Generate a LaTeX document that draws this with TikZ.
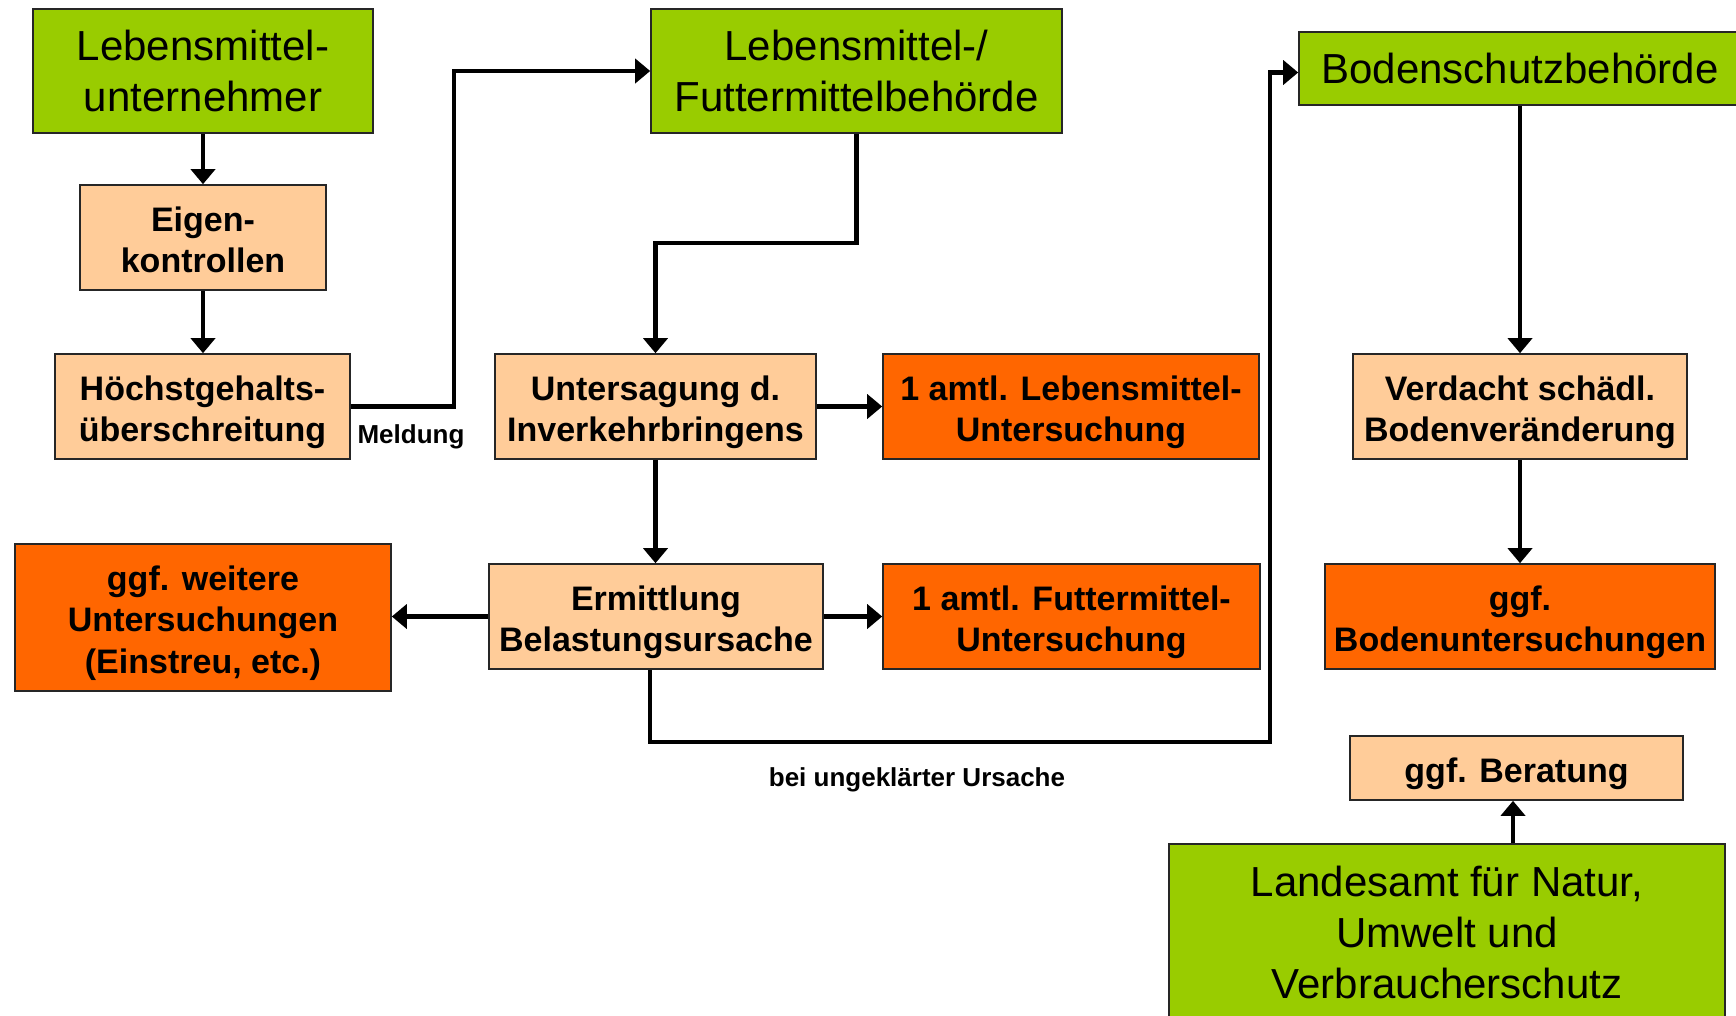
\documentclass[tikz,border=0pt]{standalone}
\usepackage{fontspec}
\setmainfont{Liberation Sans}
\usetikzlibrary{arrows.meta}
\definecolor{lgreen}{HTML}{99CC00}
\definecolor{peach}{HTML}{FFCC99}
\definecolor{dorange}{HTML}{FF6600}
\newcommand\topst{\rule{0pt}{36.5pt}}
\newcommand\botst{\rule[-8pt]{0pt}{8pt}}
\tikzset{
  boxbase/.style={draw=black!85, line width=1.6pt, inner sep=0pt, align=center, anchor=center},
  greenbox/.style={boxbase, fill=lgreen, font=\fontsize{42}{51}\selectfont},
  peachbox/.style={boxbase, fill=peach, font=\fontsize{34}{41.5}\selectfont\bfseries},
  orangebox/.style={boxbase, fill=dorange, font=\fontsize{34}{41.5}\selectfont\bfseries},
  conn/.style={line width=4.5pt, -{Triangle[length=15pt,width=24pt]}},
  lbl/.style={font=\fontsize{26}{30}\selectfont\bfseries, inner sep=0pt}
}
\begin{document}
\begin{tikzpicture}[x=1pt,y=-1pt]
\useasboundingbox[fill=white] (0,0) rectangle (1736,1015);
% boxes
\node[greenbox, minimum width=340pt, minimum height=124pt] (lmu) at (203,71) {Lebensmittel-\\unternehmer};
\node[peachbox, minimum width=246pt, minimum height=105pt] (eig) at (203,237.5) {\topst Eigen-\\kontrollen\botst};
\node[peachbox, minimum width=295pt, minimum height=105pt] (hoe) at (202.5,406.5) {\topst Höchstgehalts-\\überschreitung\botst};
\node[greenbox, minimum width=411pt, minimum height=124pt] (lfb) at (856.5,71) {Lebensmittel-/\\Futtermittelbehörde};
\node[peachbox, minimum width=321pt, minimum height=105pt] (unt) at (655.5,406.5) {\topst Untersagung d.\\Inverkehrbringens\botst};
\node[orangebox, minimum width=376pt, minimum height=105pt] (alm) at (1071,406.5) {\topst 1 amtl. Lebensmittel-\\Untersuchung\botst};
\node[peachbox, minimum width=334pt, minimum height=105pt] (erm) at (656,616.5) {\topst Ermittlung\\Belastungsursache\botst};
\node[orangebox, minimum width=377pt, minimum height=105pt] (afm) at (1071.5,616.5) {\topst 1 amtl. Futtermittel-\\Untersuchung\botst};
\node[orangebox, minimum width=376pt, minimum height=147pt] (wei) at (203,617.5) {\topst ggf. weitere\\Untersuchungen\\(Einstreu, etc.)\botst};
\node[greenbox, minimum width=442pt, minimum height=73pt] (bsb) at (1520,68.5) {Bodenschutzbehörde};
\node[peachbox, minimum width=334pt, minimum height=105pt] (ver) at (1520,406.5) {\topst Verdacht schädl.\\Bodenveränderung\botst};
\node[orangebox, minimum width=390pt, minimum height=105pt] (bod) at (1520,616.5) {\topst ggf.\\Bodenuntersuchungen\botst};
\node[peachbox, minimum width=333pt, minimum height=64pt] (ber) at (1516.5,768) {\topst ggf. Beratung\botst};
\node[greenbox, minimum width=556pt, minimum height=176pt] (lan) at (1447,932) {Landesamt für Natur,\\Umwelt und\\Verbraucherschutz};
% labels
\node[lbl] (meld) at (411,437) {Meldung};
\node[lbl] (bei) at (917,780) {bei ungeklärter Ursache};
% connectors
\coordinate (c1) at (454,406.5);
\coordinate (c2) at (1270,742);
\draw[conn] (lmu.south) -- (lmu.south |- eig.north);
\draw[conn] (eig.south) -- (eig.south |- hoe.north);
\draw[conn] (hoe.east) -- (c1) |- (lfb.west);
\draw[conn] (lfb.south) -- ++(0,109) -| (unt.north);
\draw[conn] (unt.east) -- (unt.east -| alm.west);
\draw[conn] (unt.south) -- (unt.south |- erm.north);
\draw[conn] (erm.east) -- (erm.east -| afm.west);
\draw[conn] (erm.west) -- (erm.west -| wei.east);
\draw[conn] ([xshift=-6pt]erm.south) |- (c2) |- ([yshift=-4pt]bsb.west);
\draw[conn] (bsb.south) -- (bsb.south |- ver.north);
\draw[conn] (ver.south) -- (ver.south |- bod.north);
\draw[conn] ([xshift=-3.5pt]ber.south |- lan.north) -- ([xshift=-3.5pt]ber.south);
\end{tikzpicture}
\end{document}
